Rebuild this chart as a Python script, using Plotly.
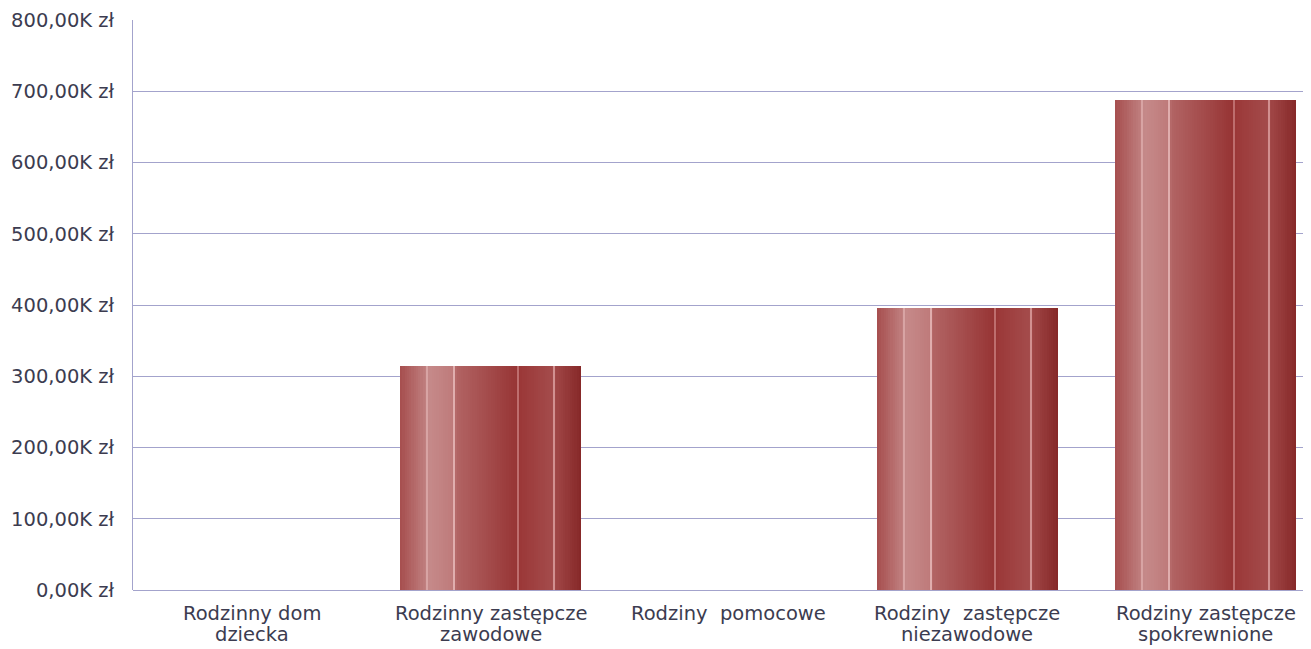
import plotly.graph_objects as go

categories = ["Rodzinny dom dziecka", "Rodzinny zastępcze zawodowe", "Rodziny  pomocowe",
              "Rodziny  zastępcze niezawodowe", "Rodziny zastępcze spokrewnione"]
label_line1 = ["Rodzinny dom", "Rodzinny zastępcze", "Rodziny  pomocowe",
               "Rodziny  zastępcze", "Rodziny zastępcze"]
label_line2 = ["dziecka", "zawodowe", "", "niezawodowe", "spokrewnione"]
values = [0, 314000, 0, 396000, 688000]
tick_vals = [0, 100000, 200000, 300000, 400000, 500000, 600000, 700000, 800000]
tick_text = ["0,00K zł", "100,00K zł", "200,00K zł", "300,00K zł", "400,00K zł",
             "500,00K zł", "600,00K zł", "700,00K zł", "800,00K zł"]

# gradient stops across bar width (fraction, rgb)
stops = [
    (0.00, (166, 78, 78)),
    (0.145, (192, 128, 128)),
    (0.16, (198, 138, 138)),
    (0.295, (190, 122, 122)),
    (0.31, (178, 100, 100)),
    (0.65, (150, 52, 52)),
    (0.665, (155, 56, 56)),
    (0.845, (164, 76, 76)),
    (0.86, (160, 70, 70)),
    (1.00, (134, 40, 40)),
]
lines = [(0.15, "rgb(216,164,164)"), (0.30, "rgb(224,174,174)"),
         (0.655, "rgb(190,110,110)"), (0.852, "rgb(210,144,144)")]

def color_at(f):
    for (f0, c0), (f1, c1) in zip(stops[:-1], stops[1:]):
        if f0 <= f <= f1:
            t = (f - f0) / (f1 - f0) if f1 > f0 else 0
            c = [round(a + (b - a) * t) for a, b in zip(c0, c1)]
            return "rgb(%d,%d,%d)" % tuple(c)
    return "rgb(%d,%d,%d)" % stops[-1][1]

bar_w = 0.76
n = 80
step = bar_w / n
fig = go.Figure()
for i in range(n):
    f = (i + 0.5) / n
    w = step * 1.3 if i < n - 1 else step
    fig.add_trace(go.Bar(
        x=categories, y=values, offset=-bar_w / 2 + i * step, width=w,
        marker=dict(color=color_at(f), line=dict(width=0)),
        showlegend=False, hoverinfo="skip"))
for f, c in lines:
    fig.add_trace(go.Bar(
        x=categories, y=values, offset=-bar_w / 2 + f * bar_w - 0.003, width=0.006,
        marker=dict(color=c, line=dict(width=0)),
        showlegend=False, hoverinfo="skip"))

text_color = "#3c3c50"
for cat, l1, l2 in zip(categories, label_line1, label_line2):
    fig.add_annotation(x=cat, xref="x", y=0, yref="paper", yanchor="middle",
                       yshift=-23, text=l1, showarrow=False,
                       font=dict(family="DejaVu Sans", size=19.5, color=text_color))
    if l2:
        fig.add_annotation(x=cat, xref="x", y=0, yref="paper", yanchor="middle",
                           yshift=-44, text=l2, showarrow=False,
                           font=dict(family="DejaVu Sans", size=19.5, color=text_color))

grid = "#a3a3cc"
fig.update_layout(
    width=1311, height=649, barmode="overlay", bargap=0,
    margin=dict(l=125, r=0, t=12, b=67),
    plot_bgcolor="white", paper_bgcolor="white",
    font=dict(family="DejaVu Sans", size=19.5, color=text_color),
)
fig.update_xaxes(
    range=[-0.5, 4.475], showgrid=False, showline=False, zeroline=False,
    ticks="", showticklabels=False,
)
fig.update_yaxes(
    range=[0, 800000], tickvals=tick_vals, ticktext=tick_text,
    showgrid=True, gridcolor=grid, gridwidth=1,
    showline=True, linecolor=grid, linewidth=1,
    zeroline=True, zerolinecolor=grid, zerolinewidth=1,
    ticks="", ticklabelstandoff=14, tickfont=dict(size=19.5, color=text_color),
)
fig.write_html("out.html")
